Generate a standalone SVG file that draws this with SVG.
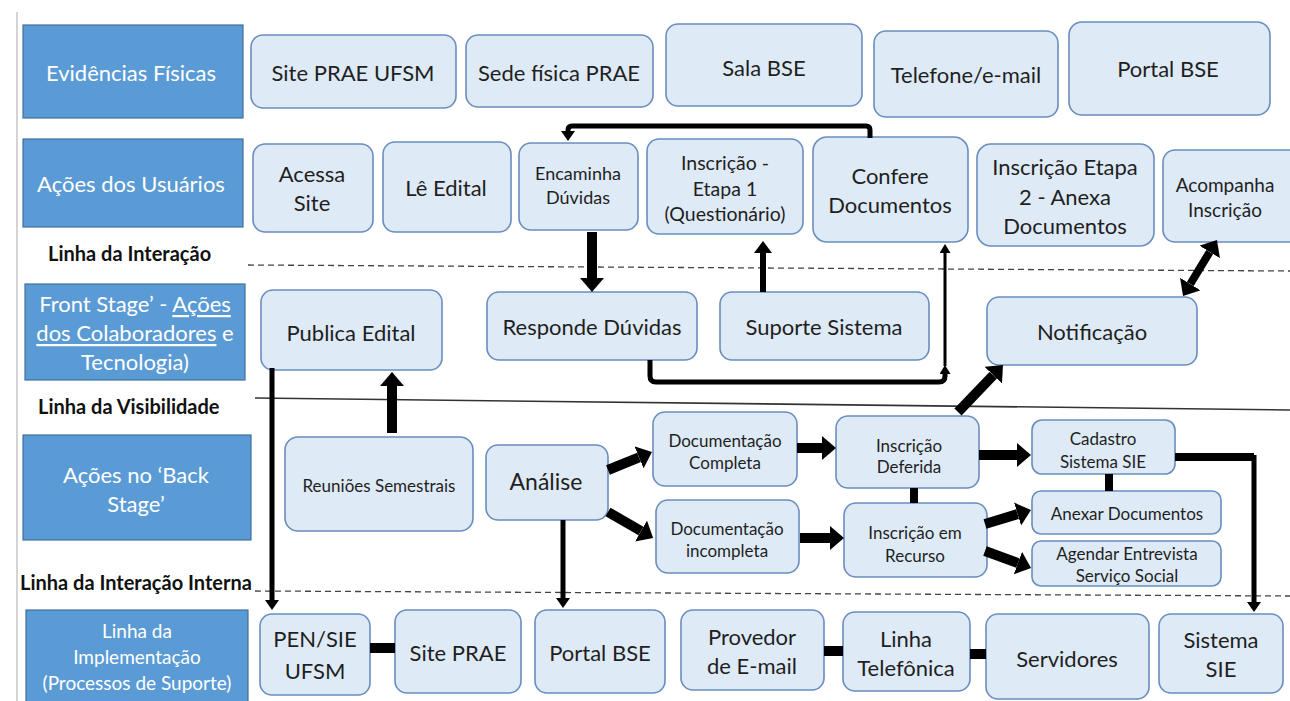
<svg xmlns="http://www.w3.org/2000/svg" width="1290" height="701" viewBox="0 0 1290 701">
  <style>
    text { font-family: Lato, "Open Sans", "Liberation Sans", sans-serif; fill: #1f1f1f; text-anchor: middle; dominant-baseline: central; }
    .lane rect { fill: #5B9BD5; stroke: #41719C; stroke-width: 1.2; }
    .lane text { fill: #ffffff; font-size: 22px; }
    .node rect { fill: #DEEAF6; stroke: #6A8DBE; stroke-width: 1.6; }
    .lbl { font-weight: bold; font-size: 20px; fill: #111; text-anchor: start; }
    .dash { stroke: #444; stroke-width: 1.3; stroke-dasharray: 6 4; fill: none; }
    .solid { stroke: #333; stroke-width: 1.6; fill: none; }
    .c { stroke: #000; fill: none; stroke-linejoin: round; }
    .w10 { stroke-width: 10; }
    .w8 { stroke-width: 8; }
    .w6 { stroke-width: 6; }
    .w5 { stroke-width: 5; }
    .w3 { stroke-width: 3; }
  </style>
  <defs>
    <marker id="hb" viewBox="0 0 10 10" refX="0" refY="5" markerWidth="14" markerHeight="24" markerUnits="userSpaceOnUse" orient="auto-start-reverse" preserveAspectRatio="none">
      <path d="M0,0 L10,5 L0,10 z" fill="#000"/>
    </marker>
    <marker id="hm" viewBox="0 0 10 10" refX="0" refY="5" markerWidth="12" markerHeight="18" markerUnits="userSpaceOnUse" orient="auto-start-reverse" preserveAspectRatio="none">
      <path d="M0,0 L10,5 L0,10 z" fill="#000"/>
    </marker>
    <marker id="hs" viewBox="0 0 10 10" refX="0" refY="5" markerWidth="10" markerHeight="14" markerUnits="userSpaceOnUse" orient="auto-start-reverse" preserveAspectRatio="none">
      <path d="M0,0 L10,5 L0,10 z" fill="#000"/>
    </marker>
    <marker id="ht" viewBox="0 0 10 10" refX="0" refY="5" markerWidth="9" markerHeight="11" markerUnits="userSpaceOnUse" orient="auto-start-reverse" preserveAspectRatio="none">
      <path d="M0,0 L10,5 L0,10 z" fill="#000"/>
    </marker>
  </defs>

  <rect width="1290" height="701" fill="#ffffff"/>
  <line x1="17" y1="12" x2="17" y2="701" stroke="#d4d4d4" stroke-width="2"/>

  <!-- lane headers -->
  <g id="lane-evidencias" class="lane">
    <rect x="23" y="25" width="220" height="93"/>
    <text x="131" y="72">Evidências Físicas</text>
  </g>
  <g id="lane-usuarios" class="lane">
    <rect x="23" y="139" width="220" height="88"/>
    <text x="131" y="183">Ações dos Usuários</text>
  </g>
  <g id="lane-front" class="lane">
    <rect x="25" y="284" width="220" height="96"/>
    <text x="135" y="303">Front Stage’ - <tspan text-decoration="underline">Ações</tspan></text>
    <text x="135" y="332"><tspan text-decoration="underline">dos Colaboradores</tspan> e</text>
    <text x="135" y="361">Tecnologia)</text>
  </g>
  <g id="lane-back" class="lane">
    <rect x="23" y="435" width="228" height="105"/>
    <text x="136" y="474">Ações no ‘Back</text>
    <text x="136" y="503">Stage’</text>
  </g>
  <g id="lane-impl" class="lane">
    <rect x="26" y="610" width="222" height="95"/>
    <text x="137" y="630" style="font-size:19px">Linha da</text>
    <text x="137" y="656" style="font-size:19px">Implementação</text>
    <text x="137" y="682" style="font-size:19px">(Processos de Suporte)</text>
  </g>

  <!-- boundary lines -->
  <g id="boundaries">
    <text class="lbl" x="48" y="253">Linha da Interação</text>
    <line class="dash" x1="248" y1="265" x2="1290" y2="271"/>
    <text class="lbl" x="38" y="406">Linha da Visibilidade</text>
    <line class="solid" x1="255" y1="398" x2="1290" y2="410"/>
    <text class="lbl" x="20" y="582">Linha da Interação Interna</text>
    <line class="dash" x1="255" y1="591" x2="1290" y2="596"/>
  </g>

  <!-- physical evidence -->
  <g id="n-site-prae-ufsm" class="node"><rect x="251" y="35" width="205" height="73" rx="12"/><text x="353" y="72" font-size="22">Site PRAE UFSM</text></g>
  <g id="n-sede" class="node"><rect x="466" y="35" width="187" height="72" rx="12"/><text x="559" y="72" font-size="22">Sede física PRAE</text></g>
  <g id="n-sala" class="node"><rect x="666" y="24" width="196" height="82" rx="12"/><text x="764" y="67" font-size="22">Sala BSE</text></g>
  <g id="n-telefone" class="node"><rect x="874" y="31" width="184" height="86" rx="12"/><text x="966" y="74" font-size="22">Telefone/e-mail</text></g>
  <g id="n-portal-top" class="node"><rect x="1069" y="22" width="201" height="93" rx="13"/><text x="1168" y="68" font-size="22">Portal BSE</text></g>

  <!-- user actions -->
  <g id="n-acessa" class="node"><rect x="253" y="144" width="120" height="88" rx="12"/><text x="312" y="173" font-size="22">Acessa</text><text x="312" y="202" font-size="22">Site</text></g>
  <g id="n-le" class="node"><rect x="383" y="142" width="128" height="90" rx="12"/><text x="446" y="187" font-size="22">Lê Edital</text></g>
  <g id="n-encaminha" class="node"><rect x="519" y="143" width="119" height="87" rx="12"/><text x="578" y="173" font-size="18">Encaminha</text><text x="578" y="197" font-size="18">Dúvidas</text></g>
  <g id="n-etapa1" class="node"><rect x="647" y="139" width="156" height="95" rx="12"/><text x="725" y="162" font-size="19.5">Inscrição -</text><text x="725" y="188" font-size="19.5">Etapa 1</text><text x="725" y="213" font-size="19.5">(Questionário)</text></g>
  <g id="n-confere" class="node"><rect x="813" y="137" width="155" height="105" rx="14"/><text x="890" y="175" font-size="22">Confere</text><text x="890" y="204" font-size="22">Documentos</text></g>
  <g id="n-etapa2" class="node"><rect x="977" y="144" width="177" height="102" rx="14"/><text x="1065" y="166" font-size="22">Inscrição Etapa</text><text x="1065" y="196" font-size="22">2 - Anexa</text><text x="1065" y="225" font-size="22">Documentos</text></g>
  <g id="n-acompanha" class="node"><rect x="1163" y="150" width="140" height="92" rx="12"/><text x="1225" y="184" font-size="19">Acompanha</text><text x="1225" y="209" font-size="19">Inscrição</text></g>

  <!-- front stage -->
  <g id="n-publica" class="node"><rect x="261" y="290" width="181" height="80" rx="12"/><text x="351" y="332" font-size="22">Publica Edital</text></g>
  <g id="n-responde" class="node"><rect x="487" y="292" width="210" height="68" rx="12"/><text x="592" y="326" font-size="22">Responde Dúvidas</text></g>
  <g id="n-suporte" class="node"><rect x="720" y="292" width="209" height="68" rx="12"/><text x="824" y="326" font-size="22">Suporte Sistema</text></g>
  <g id="n-notificacao" class="node"><rect x="987" y="297" width="210" height="68" rx="12"/><text x="1092" y="331" font-size="22">Notificação</text></g>

  <!-- back stage -->
  <g id="n-reunioes" class="node"><rect x="285" y="437" width="188" height="94" rx="13"/><text x="379" y="485" font-size="17">Reuniões Semestrais</text></g>
  <g id="n-analise" class="node"><rect x="486" y="445" width="122" height="75" rx="12"/><text x="546" y="481" font-size="23">Análise</text></g>
  <g id="n-doc-completa" class="node"><rect x="653" y="412" width="144" height="74" rx="12"/><text x="725" y="440" font-size="17">Documentação</text><text x="725" y="462" font-size="17">Completa</text></g>
  <g id="n-doc-incompleta" class="node"><rect x="656" y="500" width="143" height="73" rx="12"/><text x="727" y="528" font-size="17">Documentação</text><text x="727" y="550" font-size="17">incompleta</text></g>
  <g id="n-deferida" class="node"><rect x="836" y="416" width="143" height="72" rx="12"/><text x="909" y="445" font-size="17">Inscrição</text><text x="909" y="466" font-size="17">Deferida</text></g>
  <g id="n-recurso" class="node"><rect x="844" y="503" width="143" height="74" rx="12"/><text x="915" y="532" font-size="17">Inscrição em</text><text x="915" y="555" font-size="17">Recurso</text></g>
  <g id="n-cadastro" class="node"><rect x="1032" y="420" width="143" height="54" rx="10"/><text x="1103" y="438" font-size="17">Cadastro</text><text x="1103" y="461" font-size="17">Sistema SIE</text></g>
  <g id="n-anexar" class="node"><rect x="1032" y="491" width="189" height="43" rx="9"/><text x="1127" y="513" font-size="17">Anexar Documentos</text></g>
  <g id="n-agendar" class="node"><rect x="1032" y="541" width="189" height="45" rx="9"/><text x="1127" y="553" font-size="17">Agendar Entrevista</text><text x="1127" y="575" font-size="17">Serviço Social</text></g>

  <!-- support processes -->
  <g id="n-pen" class="node"><rect x="260" y="614" width="110" height="81" rx="12"/><text x="315" y="638" font-size="22">PEN/SIE</text><text x="315" y="670" font-size="22">UFSM</text></g>
  <g id="n-site-prae" class="node"><rect x="395" y="610" width="126" height="83" rx="12"/><text x="458" y="652" font-size="22">Site PRAE</text></g>
  <g id="n-portal" class="node"><rect x="535" y="610" width="130" height="83" rx="12"/><text x="600" y="652" font-size="22">Portal BSE</text></g>
  <g id="n-provedor" class="node"><rect x="681" y="610" width="143" height="80" rx="12"/><text x="752" y="636" font-size="22">Provedor</text><text x="752" y="665" font-size="22">de E-mail</text></g>
  <g id="n-linha-tel" class="node"><rect x="843" y="612" width="127" height="79" rx="12"/><text x="906" y="638" font-size="22">Linha</text><text x="906" y="667" font-size="22">Telefônica</text></g>
  <g id="n-servidores" class="node"><rect x="986" y="614" width="163" height="85" rx="12"/><text x="1067" y="658" font-size="22">Servidores</text></g>
  <g id="n-sistema-sie" class="node"><rect x="1159" y="614" width="124" height="79" rx="12"/><text x="1221" y="639" font-size="22">Sistema</text><text x="1221" y="668" font-size="22">SIE</text></g>

  <!-- connectors -->
  <g id="connectors">
    <path class="c w5" d="M870,138 V130 Q870,126 866,126 H572 Q568,126 568,130 V131" marker-end="url(#hs)"/>
    <path class="c w10" d="M592,232 V278" marker-end="url(#hb)"/>
    <path class="c w6" d="M763,292 V253" marker-end="url(#hm)"/>
    <path class="c w5" d="M650,360 V376 Q650,382 656,382 H939 Q945,382 945,376 V374" marker-end="url(#ht)"/>
    <path class="c w3" d="M945,366 V253" marker-end="url(#ht)"/>
    <path class="c w8" d="M1190.3,284 L1209.7,252" marker-start="url(#hb)" marker-end="url(#hb)"/>
    <path class="c w10" d="M958,412 L993.3,375.1" marker-end="url(#hb)"/>
    <path class="c w10" d="M392,433 V386" marker-end="url(#hb)"/>
    <path class="c w5" d="M272,368 V600" marker-end="url(#hs)"/>
    <path class="c w5" d="M563,520 V598" marker-end="url(#hs)"/>
    <path class="c w10" d="M608,470 L639,457.3" marker-end="url(#hb)"/>
    <path class="c w10" d="M608,512 L641,531" marker-end="url(#hb)"/>
    <path class="c w10" d="M797,448 H822" marker-end="url(#hb)"/>
    <path class="c w10" d="M800,538 H830" marker-end="url(#hb)"/>
    <path class="c w10" d="M979,455 H1017" marker-end="url(#hb)"/>
    <path class="c w10" d="M985,524 L1017.6,514.1" marker-end="url(#hb)"/>
    <path class="c w10" d="M985,551 L1017.9,563.1" marker-end="url(#hb)"/>
    <path class="c w8" d="M914,488 V503"/>
    <path class="c w8" d="M1109,474 V491"/>
    <path class="c w8" d="M1175,457 H1254"/>
    <path class="c w5" d="M1254,455 V602" marker-end="url(#hs)"/>
    <path class="c w10" d="M370,648 H395"/>
    <path class="c w10" d="M824,651 H843"/>
    <path class="c w10" d="M970,654 H986"/>
  </g>
</svg>
